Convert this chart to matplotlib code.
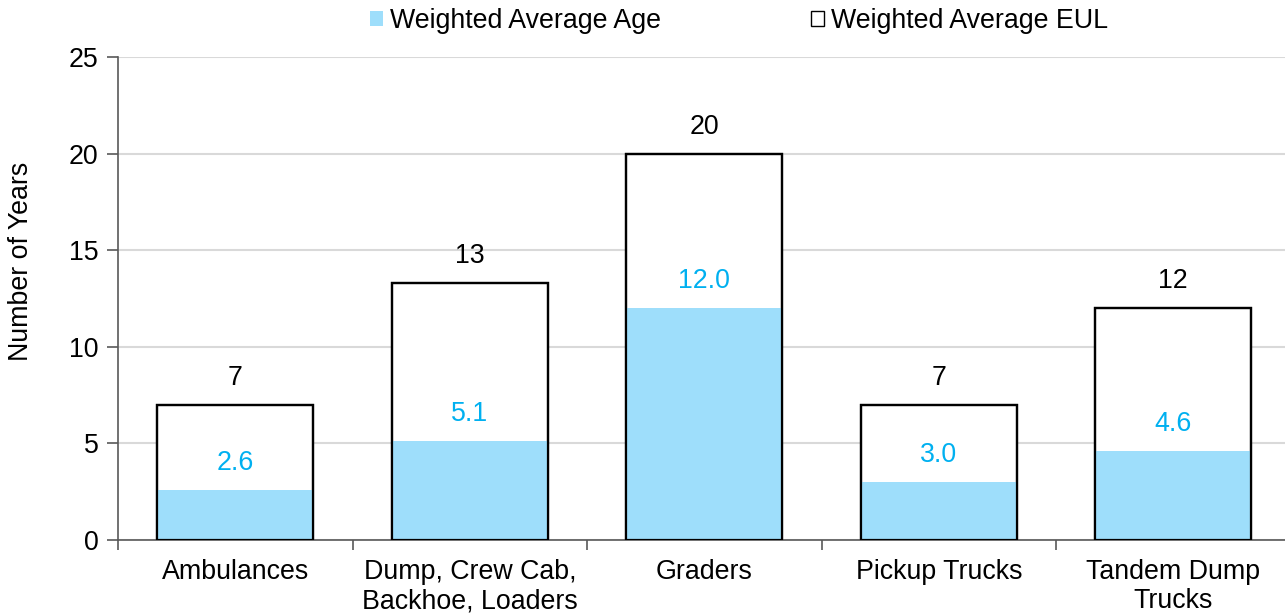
import matplotlib
matplotlib.use("Agg")
import matplotlib.pyplot as plt
from matplotlib.patches import Patch

plt.rcParams['font.family'] = ['Liberation Sans', 'DejaVu Sans']

categories = ["Ambulances", "Dump, Crew Cab,\nBackhoe, Loaders", "Graders",
              "Pickup Trucks", "Tandem Dump\nTrucks"]
eul = [7.0, 13.3, 20.0, 7.0, 12.0]
age = [2.6, 5.1, 12.0, 3.0, 4.6]
yticks = [0, 5, 10, 15, 20, 25]

AGE_FILL = "#9EDEFB"
AGE_TEXT = "#00B0F0"
AXIS_GREY = "#595959"
FS = 19.3

fig = plt.figure(figsize=(12.85, 6.13), dpi=100)
ax = fig.add_axes([118 / 1285, 73 / 613, 1172.5 / 1285, 483 / 613])

x = list(range(len(categories)))
w = 0.665
ax.bar(x, eul, width=w, color="white", edgecolor="black", linewidth=1.6, zorder=2)
ax.bar(x, age, width=w, color=AGE_FILL, edgecolor="none", linewidth=0, zorder=3)
# redraw the outline on top so the blue fill sits inside the frame
ax.bar(x, eul, width=w, color="none", edgecolor="black", linewidth=1.6, zorder=4)

off = 1.4
for xi, e, a in zip(x, eul, age):
    ax.text(xi, e + off, f"{e:.0f}", ha="center", va="center", fontsize=FS, color="black")
    ax.text(xi, a + off, f"{a:.1f}", ha="center", va="center", fontsize=FS, color=AGE_TEXT)

ax.set_xlim(-0.5, len(categories) - 0.5)
ax.set_ylim(0, 25)
ax.set_yticks(yticks)
ax.tick_params(axis="y", labelsize=FS, length=8, width=1.2, color=AXIS_GREY, direction="out", pad=6)
ax.yaxis.grid(True, color="#D9D9D9", linewidth=1.5, zorder=0)
ax.set_axisbelow(True)

ax.set_xticks(x)
ax.set_xticklabels(categories, fontsize=FS, linespacing=1.15)
ax.tick_params(axis="x", which="major", length=0, pad=14)
ax.set_xticks([i - 0.5 for i in range(len(categories) + 1)], minor=True)
ax.tick_params(axis="x", which="minor", length=7, width=1.2, color=AXIS_GREY, direction="out")

for side in ("top", "right"):
    ax.spines[side].set_visible(False)
for side in ("left", "bottom"):
    ax.spines[side].set_color(AXIS_GREY)
    ax.spines[side].set_linewidth(1.2)

fig.text(21 / 1285, 1 - 261 / 613, "Number of Years", rotation=90, ha="center", va="center", fontsize=FS)

handles = [Patch(facecolor=AGE_FILL, edgecolor="none", label="Weighted Average Age"),
           Patch(facecolor="white", edgecolor="black", linewidth=1.0, label="Weighted Average EUL")]
fig.legend(handles=handles, loc="center", bbox_to_anchor=(739 / 1285, 1 - 21 / 613), ncol=2,
           frameon=False, fontsize=FS, handlelength=0.5, handleheight=0.5, handletextpad=0.25,
           columnspacing=5.6)

fig.savefig("out.png", dpi=100)
